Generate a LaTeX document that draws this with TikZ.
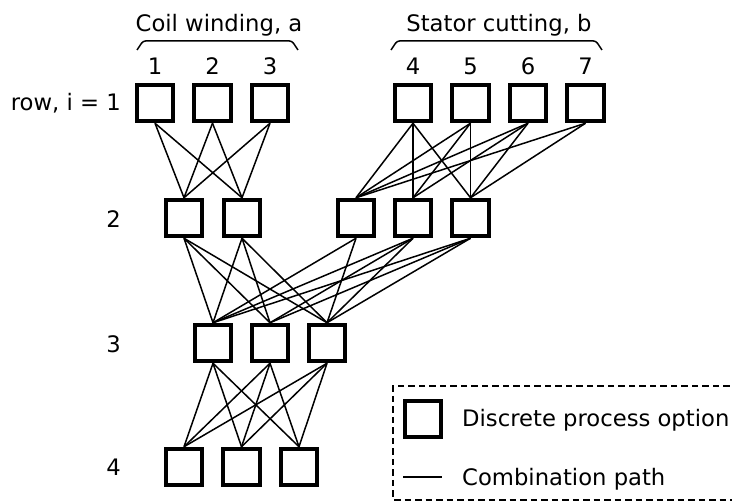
\documentclass[tikz,border=0pt]{standalone}
\usepackage{fontspec}
\setmainfont{DejaVu Sans}
\begin{document}
\begin{tikzpicture}[x=1pt,y=-1pt,
  opt/.style={draw, line width=3.8pt, minimum size=36.7pt, inner sep=0pt, fill=white},
  combo/.style={line width=1.5pt},
  lbl/.style={font=\fontsize{22.7}{27}\selectfont, inner sep=0pt},
  legendframe/.style={line width=1.6pt, dash pattern=on 6.5pt off 4pt},
  brace/.style={line width=1.5pt, rounded corners=2.5pt}]
\useasboundingbox (0,0) rectangle (732,502);

% row 1
\node[opt] (r11) at (155,103) {};
\node[opt] (r12) at (212.5,103) {};
\node[opt] (r13) at (270,103) {};
\node[opt] (r14) at (413,103) {};
\node[opt] (r15) at (470.5,103) {};
\node[opt] (r16) at (528,103) {};
\node[opt] (r17) at (585.5,103) {};
% row 2
\node[opt] (r21) at (184,218) {};
\node[opt] (r22) at (242,218) {};
\node[opt] (r23) at (356,218) {};
\node[opt] (r24) at (413,218) {};
\node[opt] (r25) at (470.5,218) {};
% row 3
\node[opt] (r31) at (213,343) {};
\node[opt] (r32) at (270,343) {};
\node[opt] (r33) at (327,343) {};
% row 4
\node[opt] (r41) at (184,467) {};
\node[opt] (r42) at (241.5,467) {};
\node[opt] (r43) at (299,467) {};

% connections
\foreach \u in {r11,r12,r13}{\foreach \v in {r21,r22}{\draw[combo] (\u.south) -- (\v.north);}}
\foreach \u in {r14,r15,r16}{\foreach \v in {r23,r24,r25}{\draw[combo] (\u.south) -- (\v.north);}}
\foreach \v in {r23,r25}{\draw[combo] (r17.south) -- (\v.north);}
\foreach \u in {r21,r22,r24,r25}{\foreach \v in {r31,r32,r33}{\draw[combo] (\u.south) -- (\v.north);}}
\foreach \v in {r31,r33}{\draw[combo] (r23.south) -- (\v.north);}
\foreach \u in {r31,r32,r33}{\foreach \v in {r41,r42,r43}{\draw[combo] (\u.south) -- (\v.north);}}

% column numbers
\node[lbl, anchor=base] (n1) at (155,75) {1};
\node[lbl, anchor=base] (n2) at (212.5,75) {2};
\node[lbl, anchor=base] (n3) at (270,75) {3};
\node[lbl, anchor=base] (n4) at (413,75) {4};
\node[lbl, anchor=base] (n5) at (470.5,75) {5};
\node[lbl, anchor=base] (n6) at (528,75) {6};
\node[lbl, anchor=base] (n7) at (585.5,75) {7};

% group titles and braces
\node[lbl, anchor=base] (ta) at (219,31.5) {Coil winding, a};
\node[lbl, anchor=base] (tb) at (499,31.5) {Stator cutting, b};
\draw[brace] (137,50) -- (143,41) -- (292,41) -- (298,50);
\draw[brace] (391,50) -- (397,41) -- (596,41) -- (602,50);

% row labels
\node[lbl, anchor=base east] (row1) at (121,111) {row, i = 1};
\node[lbl, anchor=east] (row2) at (121,219) {2};
\node[lbl, anchor=east] (row3) at (121,344) {3};
\node[lbl, anchor=east] (row4) at (121,467) {4};

% legend
\draw[legendframe] (740,386) -- (393,386) -- (393,500) -- (740,500);
\node[opt] (lbox) at (423,419) {};
\node[lbl, anchor=base west] (ltext1) at (462,427) {Discrete process option};
\coordinate (la) at (403,477);
\coordinate (lb) at (442,477);
\draw[combo] (la) -- (lb);
\node[lbl, anchor=base west] (ltext2) at (462,486) {Combination path};
\end{tikzpicture}
\end{document}
